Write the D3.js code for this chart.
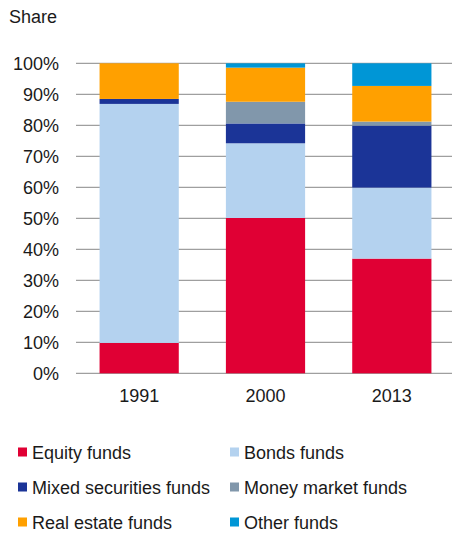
<!DOCTYPE html>
<html><head><meta charset="utf-8">
<script src="https://cdn.jsdelivr.net/npm/d3@7"></script>
<style>body{margin:0;background:#fff;}svg{display:block;font-family:"Liberation Sans",Arial,sans-serif;}</style>
</head><body><svg id="c" width="452" height="537"></svg>
<script>
const years = ["1991","2000","2013"];
const seriesNames = ["Equity funds","Bonds funds","Mixed securities funds","Money market funds","Real estate funds","Other funds"];
const seriesColors = ["#e00034","#b4d2ef","#1b3497","#8197ab","#ffa000","#0096d6"];
const equity = [9.8, 50.1, 37.0];
const bonds = [77.1, 24.1, 22.9];
const mixed = [1.6, 6.4, 20.0];
const money = [0.0, 7.0, 1.3];
const realEstate = [11.5, 11.0, 11.5];
const other = [0.0, 1.4, 7.3];
const yTicks = [0,10,20,30,40,50,60,70,80,90,100];
const seriesValues = [equity, bonds, mixed, money, realEstate, other];

const svg = d3.select("#c");
const FONT = "'Liberation Sans', Arial, sans-serif";
const table = years.map((y,i)=>{const o={year:y};seriesNames.forEach((s,k)=>o[s]=seriesValues[k][i]);return o;});
const stack = d3.stack().keys(seriesNames)(table);

const x = d3.scaleBand().domain(years).range([76,455]).paddingInner(0.373).paddingOuter(0.1865);
const y = d3.scaleLinear().domain([0,100]).range([373.3,63.3]);

// gridlines
svg.append("g").selectAll("line").data(yTicks).join("line")
  .attr("x1",76).attr("x2",452)
  .attr("y1",d=>y(d)).attr("y2",d=>y(d))
  .attr("stroke","#878787").attr("stroke-width",1);

// bars
svg.append("g").selectAll("g").data(stack).join("g")
  .attr("fill",(d,i)=>seriesColors[i])
  .selectAll("rect").data(d=>d).join("rect")
  .attr("x",d=>x(d.data.year)).attr("width",x.bandwidth())
  .attr("y",d=>y(d[1])).attr("height",d=>Math.max(0,y(d[0])-y(d[1])));

// y axis
const ya = d3.axisLeft(y).tickValues(yTicks).tickFormat(d=>d+"%").tickSize(0).tickPadding(0);
const gy = svg.append("g").attr("transform","translate(59,0)").call(ya);
gy.select(".domain").remove();
gy.selectAll("text").attr("font-size",18).attr("fill","#1a1a1a").attr("font-family",FONT).attr("dy","0.35em");

// x axis
const xa = d3.axisBottom(x).tickSize(0).tickPadding(0);
const gx = svg.append("g").attr("transform","translate(0,389)").call(xa);
gx.select(".domain").remove();
gx.selectAll("text").attr("font-size",18).attr("fill","#1a1a1a").attr("font-family",FONT).attr("dy","0.71em");

// title
svg.append("text").attr("x",9).attr("y",23).attr("font-size",18).attr("font-family",FONT).attr("fill","#1a1a1a").text("Share");

// legend
const lg = svg.append("g").selectAll("g").data(seriesNames).join("g")
  .attr("transform",(d,i)=>`translate(${i%2===0?18:230},${447.5+Math.floor(i/2)*35})`);
lg.append("rect").attr("width",9).attr("height",9).attr("fill",(d,i)=>seriesColors[i]);
lg.append("text").attr("x",14).attr("y",11.5).attr("font-size",18).attr("font-family",FONT).attr("fill","#1a1a1a").text(d=>d);
</script></body></html>
